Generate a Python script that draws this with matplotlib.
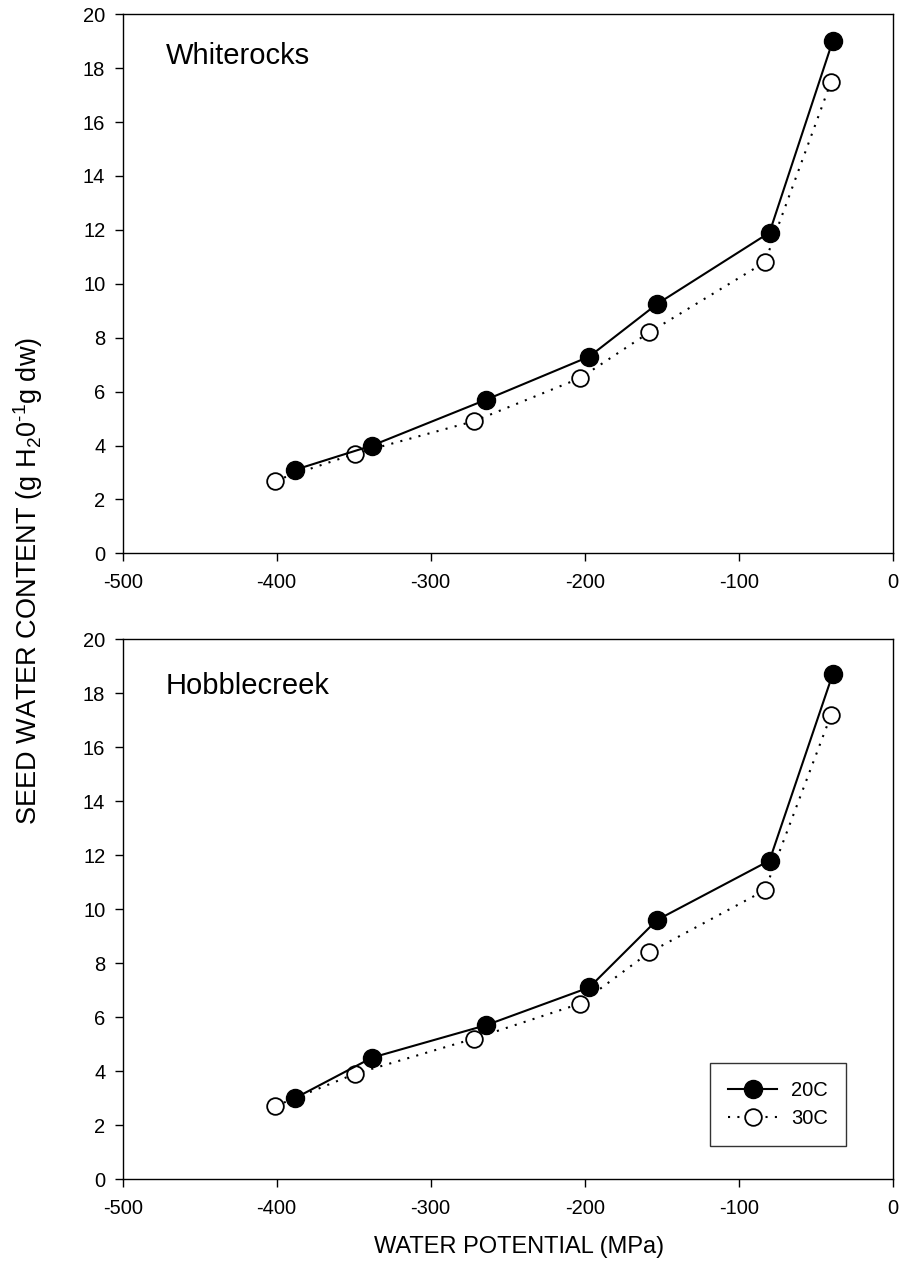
import matplotlib
matplotlib.use("Agg")
import matplotlib.pyplot as plt

plt.rcParams['font.family'] = ['Liberation Sans', 'DejaVu Sans']
plt.rcParams['mathtext.fontset'] = 'custom'
plt.rcParams['mathtext.rm'] = 'Liberation Sans'
plt.rcParams['mathtext.it'] = 'Liberation Sans:italic'
plt.rcParams['axes.unicode_minus'] = False

# water potential (MPa)
wp_20 = [-388, -338, -264, -197, -153, -80, -39]
wp_30 = [-401, -349, -272, -203, -158, -83, -40]

# seed water content, Whiterocks
white_20 = [3.1, 4.0, 5.7, 7.3, 9.25, 11.9, 19.0]
white_30 = [2.7, 3.7, 4.9, 6.5, 8.2, 10.8, 17.5]

# seed water content, Hobblecreek
hobble_20 = [3.0, 4.5, 5.7, 7.1, 9.6, 11.8, 18.7]
hobble_30 = [2.7, 3.9, 5.2, 6.5, 8.4, 10.7, 17.2]

sites = ["Whiterocks", "Hobblecreek"]
x_ticks = [-500, -400, -300, -200, -100, 0]
y_ticks = [0, 2, 4, 6, 8, 10, 12, 14, 16, 18, 20]

fig = plt.figure(figsize=(9, 12.72), dpi=100)
ax1 = fig.add_axes([0.1363, 0.565, 0.8556, 0.4238])
ax2 = fig.add_axes([0.1363, 0.0731, 0.8556, 0.4243])

panels = [(ax1, white_20, white_30, 0.949), (ax2, hobble_20, hobble_30, 0.940)]
for (ax, y20, y30, ty), name in zip(panels, sites):
    ax.plot(wp_20, y20, color='black', linestyle='-', linewidth=1.5,
            marker='o', markersize=13, markerfacecolor='black',
            markeredgecolor='black', label='20C', zorder=3)
    ax.plot(wp_30, y30, color='black', linestyle=(0, (1, 3.5)), linewidth=1.5,
            marker='o', markersize=12, markerfacecolor='white',
            markeredgecolor='black', markeredgewidth=1.3, label='30C', zorder=2)
    ax.set_xlim(-500, 0)
    ax.set_ylim(0, 20)
    ax.set_xticks(x_ticks)
    ax.set_yticks(y_ticks)
    ax.tick_params(direction='out', length=5.5, width=1, labelsize=14.5)
    ax.tick_params(axis='x', pad=9)
    ax.tick_params(axis='y', pad=7)
    for s in ax.spines.values():
        s.set_linewidth(1)
    ax.text(0.056, ty, name, transform=ax.transAxes, fontsize=21,
            ha='left', va='top')

leg = ax2.legend(loc='upper left', bbox_to_anchor=(0.763, 0.215), fontsize=14.5,
                 frameon=True, fancybox=False, handlelength=2.4,
                 borderpad=0.9, labelspacing=0.45, handletextpad=0.7,
                 borderaxespad=0)
leg.get_frame().set_edgecolor('black')
leg.get_frame().set_linewidth(1)

fig.text(0.031, 0.543, r'SEED WATER CONTENT (g H$_2$0$^{\text{-}1}$g dw)',
         rotation=90, ha='center', va='center', fontsize=19.5)
fig.text(0.577, 0.0197, 'WATER POTENTIAL (MPa)', ha='center', va='center',
         fontsize=17)

fig.savefig('out.png', dpi=100)
